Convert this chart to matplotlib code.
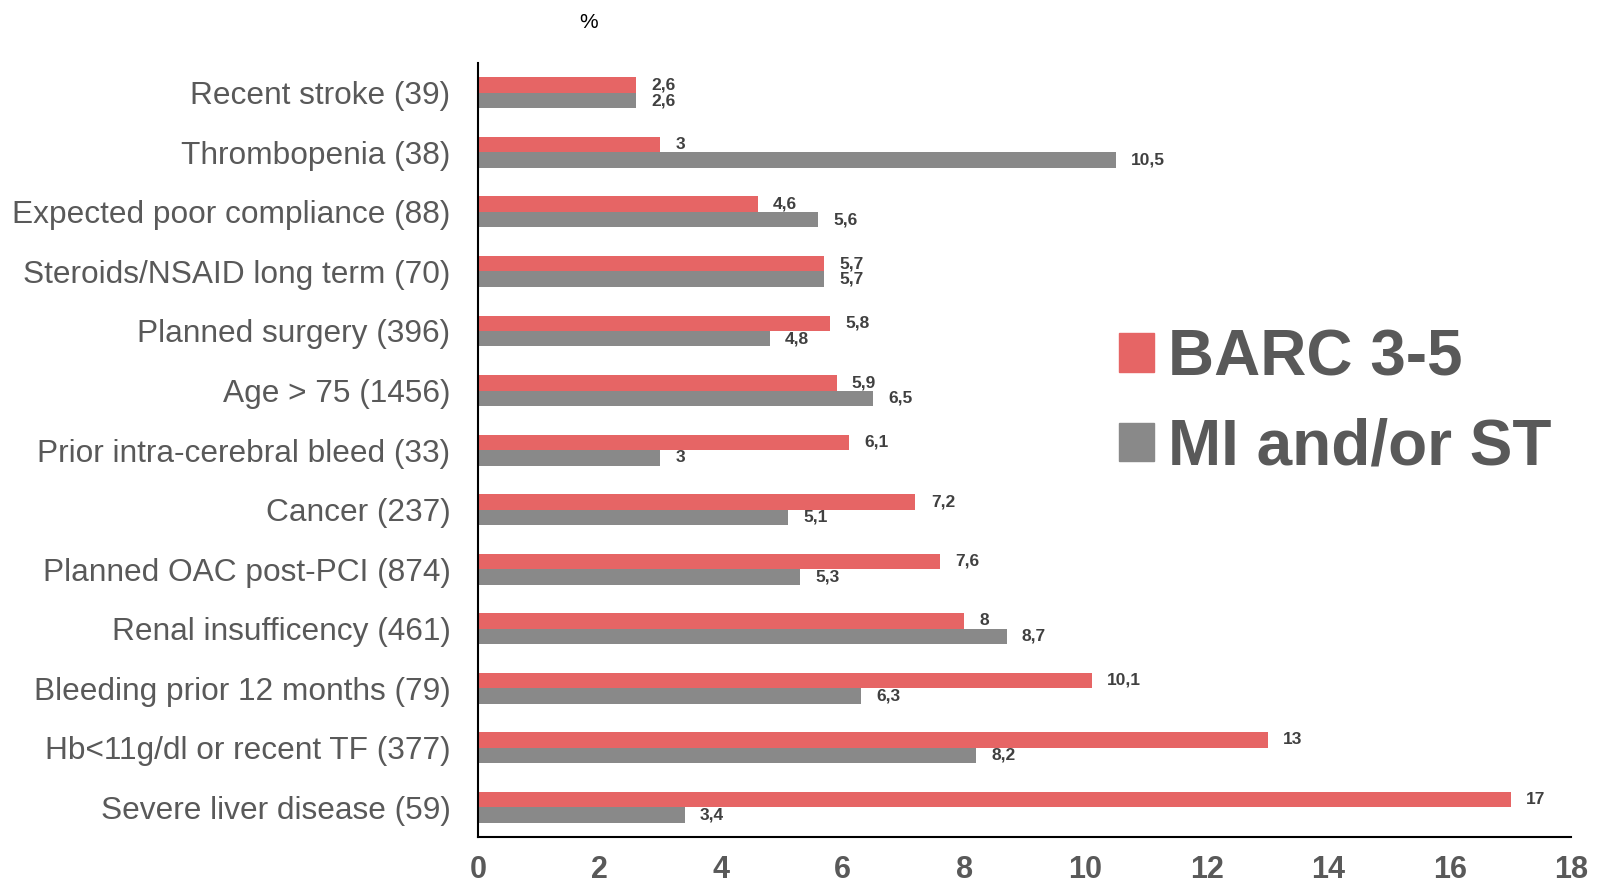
import matplotlib
matplotlib.use("Agg")
import matplotlib.pyplot as plt
from matplotlib.patches import Patch
import numpy as np

categories = ["Recent stroke (39)", "Thrombopenia (38)", "Expected poor compliance (88)",
              "Steroids/NSAID long term (70)", "Planned surgery (396)", "Age > 75 (1456)",
              "Prior intra-cerebral bleed (33)", "Cancer (237)", "Planned OAC post-PCI (874)",
              "Renal insufficency (461)", "Bleeding prior 12 months (79)",
              "Hb<11g/dl or recent TF (377)", "Severe liver disease (59)"]
barc = [2.6, 3, 4.6, 5.7, 5.8, 5.9, 6.1, 7.2, 7.6, 8, 10.1, 13, 17]
mi_st = [2.6, 10.5, 5.6, 5.7, 4.8, 6.5, 3, 5.1, 5.3, 8.7, 6.3, 8.2, 3.4]
series_names = ["BARC 3-5", "MI and/or ST"]
xticks = [0, 2, 4, 6, 8, 10, 12, 14, 16, 18]

RED = "#E66565"
GREY = "#898989"
TXT = "#595959"

def fmt(v):
    return ("%g" % v).replace(".", ",")

fig = plt.figure(figsize=(16.05, 8.89), dpi=100)
ax = fig.add_axes([0.298, 0.0585, 0.681, 0.8705])

y = np.arange(len(categories))
h = 0.26
ax.barh(y - h / 2, barc, height=h, color=RED, label=series_names[0])
ax.barh(y + h / 2, mi_st, height=h, color=GREY, label=series_names[1])

for yi, v in zip(y, barc):
    ax.annotate(fmt(v), (v, yi - h / 2), xytext=(11, 0), textcoords="offset points",
                va="center", ha="left", fontsize=12.5, fontweight="bold", color="#404040",
                family="Liberation Sans")
for yi, v in zip(y, mi_st):
    ax.annotate(fmt(v), (v, yi + h / 2), xytext=(11, 0), textcoords="offset points",
                va="center", ha="left", fontsize=12.5, fontweight="bold", color="#404040",
                family="Liberation Sans")

ax.set_ylim(len(categories) - 0.5, -0.5)
ax.set_xlim(0, 18)
ax.set_yticks(y)
ax.set_yticklabels(categories, fontsize=22.8, color=TXT, family="Liberation Sans")
ax.set_xticks(xticks)
ax.set_xticklabels([str(t) for t in xticks], fontsize=22, fontweight="bold", color=TXT,
                   family=["Liberation Sans Narrow", "Liberation Sans"])
ax.tick_params(axis="y", length=0, pad=20)
ax.tick_params(axis="x", length=0, pad=13)
for s in ["top", "right"]:
    ax.spines[s].set_visible(False)
ax.spines["left"].set_color("black")
ax.spines["bottom"].set_color("black")
ax.spines["left"].set_linewidth(1.5)
ax.spines["bottom"].set_linewidth(1.5)

fig.text(589 / 1605, 1 - 22 / 889, "%", fontsize=15, color="black", ha="center", va="center",
         family="Liberation Sans")

handles = [Patch(color=RED), Patch(color=GREY)]
leg = ax.legend(handles, series_names, loc="center left", bbox_to_anchor=(0.563, 0.561),
                frameon=False, handlelength=0.55, handleheight=0.55, handletextpad=0.22,
                labelspacing=0.46, borderaxespad=0,
                prop={"family": "Liberation Sans", "weight": "bold", "size": 46},
                labelcolor=TXT)

fig.savefig("out.png", dpi=100)
